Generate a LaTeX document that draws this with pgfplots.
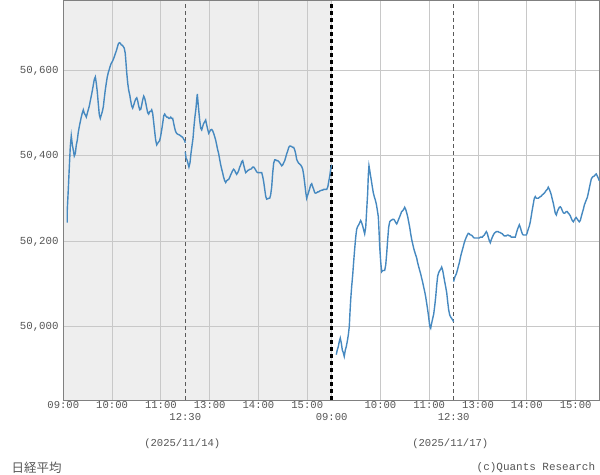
\documentclass[border=0pt]{standalone}
\usepackage{fontspec}
\setmonofont{Liberation Mono}
\newfontfamily\jp{Noto Sans CJK JP}
\usepackage{pgfplots}
\pgfplotsset{compat=1.18}
\definecolor{bgshade}{RGB}{238,238,238}
\definecolor{gridc}{RGB}{200,200,200}
\definecolor{framec}{RGB}{128,128,128}
\definecolor{txt}{RGB}{85,85,85}
\definecolor{lunch}{RGB}{90,90,90}
\definecolor{price}{RGB}{70,137,192}
\begin{document}
\begin{tikzpicture}
\begin{axis}[
  set layers,
  scale only axis,
  width=536.7bp, height=400bp,
  xmin=0, xmax=660, ymin=49829, ymax=50765,
  axis line style={draw=framec, line width=1bp},
  xtick={0,60,120,180,240,300,390,450,510,570,630},
  xticklabels={09:00,10:00,11:00,13:00,14:00,15:00,10:00,11:00,13:00,14:00,15:00},
  extra x ticks={150,330,480},
  extra x tick labels={12:30,09:00,12:30},
  extra x tick style={grid=none, xticklabel style={yshift=-12bp}},
  ytick={50000,50200,50400,50600},
  yticklabels={{50,000},{50,200},{50,400},{50,600}},
  major tick length=0pt,
  xmajorgrids, ymajorgrids,
  grid style={draw=gridc, line width=1bp},
  xticklabel style={font=\ttfamily\fontsize{10.6}{12}\selectfont, text=txt, inner sep=0pt, anchor=north, yshift=-1.5bp},
  yticklabel style={font=\ttfamily\fontsize{10.8}{12}\selectfont, text=txt, inner sep=0pt, anchor=east, xshift=-4.5bp},
  clip=false,
]
\begin{pgfonlayer}{axis background}
\fill[bgshade] (axis cs:0,49829) rectangle (axis cs:330,50765);
\end{pgfonlayer}
\draw[lunch, line width=1bp, dash pattern=on 4bp off 3bp] (axis cs:150,49829) -- (axis cs:150,50765);
\draw[lunch, line width=1bp, dash pattern=on 4bp off 3bp] (axis cs:480,49829) -- (axis cs:480,50765);
\draw[gridc, line width=1bp] (axis cs:330,49829) -- (axis cs:330,50765);
\draw[black, line width=3bp, dash pattern=on 4.3bp off 2.7bp] (axis cs:330,49829) -- (axis cs:330,50765);
\draw[framec, line width=2bp] (rel axis cs:0,1) -- (rel axis cs:1,1);
\draw[framec, line width=2bp] (rel axis cs:1,0) -- (rel axis cs:1,1);

\addplot[price, line width=1.4bp, mark=none] coordinates {
(4.9,50244)(4.9,50274)(6.1,50320)(7.4,50374)(8.6,50422)(9.8,50447)(11.1,50426)(12.3,50414)(13.5,50400)(14.8,50406)(16.0,50426)(17.2,50437)(18.4,50455)(19.7,50469)(20.9,50480)(22.1,50491)(23.4,50501)(24.6,50508)(25.8,50500)(27.1,50496)(28.3,50491)(29.5,50500)(30.7,50508)(32.0,50517)(33.2,50529)(34.4,50540)(35.7,50553)(36.9,50566)(38.1,50579)(39.4,50585)(40.6,50570)(41.8,50550)(43.0,50523)(44.3,50496)(45.5,50488)(46.7,50496)(48.0,50504)(49.2,50515)(50.4,50535)(51.6,50554)(52.9,50571)(54.1,50585)(55.3,50595)(56.6,50603)(57.8,50611)(59.0,50617)(60.3,50621)(61.5,50626)(62.7,50632)(63.9,50639)(65.2,50646)(66.4,50654)(67.6,50662)(68.9,50665)(70.1,50664)(71.3,50660)(72.6,50659)(73.8,50656)(75.0,50652)(76.2,50640)(77.1,50618)(78.0,50595)(79.2,50571)(80.4,50554)(81.7,50543)(82.9,50529)(84.1,50517)(85.3,50512)(86.6,50519)(87.8,50527)(89.0,50533)(90.3,50536)(91.5,50529)(92.7,50517)(94.0,50508)(95.2,50509)(96.4,50519)(97.6,50531)(98.9,50540)(100.1,50535)(101.3,50525)(102.6,50512)(103.8,50501)(105.0,50498)(106.2,50504)(107.5,50504)(108.7,50508)(109.9,50500)(111.2,50478)(112.4,50457)(113.6,50437)(114.9,50426)(116.1,50430)(117.3,50433)(118.5,50436)(119.8,50447)(121.0,50461)(122.2,50476)(123.5,50494)(124.7,50498)(125.9,50494)(127.2,50491)(128.4,50491)(129.6,50488)(130.8,50488)(132.1,50491)(133.3,50488)(134.5,50488)(135.8,50476)(137.0,50465)(138.2,50457)(139.4,50453)(140.7,50451)(141.9,50450)(143.1,50449)(144.4,50447)(145.6,50445)(146.8,50444)(148.1,50439)(149.3,50436)(150,50431)
};
\addplot[price, line width=1.4bp, mark=none] coordinates {
(150,50410)(150.9,50395)(152.1,50391)(153.3,50383)(154.5,50374)(155.8,50384)(157.0,50406)(158.2,50423)(159.5,50441)(160.7,50469)(161.9,50492)(163.2,50512)(164.0,50531)(164.8,50545)(165.6,50527)(166.5,50508)(167.7,50484)(169.0,50465)(170.2,50461)(171.4,50469)(172.6,50476)(173.9,50480)(175.1,50484)(176.3,50473)(177.6,50462)(178.8,50453)(180.0,50457)(181.3,50461)(182.5,50462)(183.7,50459)(184.9,50453)(186.2,50445)(187.4,50437)(188.6,50426)(189.9,50414)(191.1,50405)(192.3,50392)(193.6,50379)(194.8,50369)(196.0,50360)(197.2,50350)(198.5,50342)(199.7,50338)(200.9,50342)(202.2,50344)(203.4,50345)(204.6,50350)(205.9,50356)(207.1,50361)(208.3,50366)(209.5,50369)(210.8,50366)(212.0,50361)(213.2,50357)(214.5,50361)(215.7,50366)(216.9,50374)(218.2,50379)(219.4,50387)(220.6,50389)(221.8,50379)(223.1,50369)(224.3,50361)(225.5,50363)(226.8,50366)(228.0,50367)(229.2,50369)(230.5,50369)(231.7,50371)(232.9,50374)(234.1,50374)(235.4,50371)(236.6,50367)(237.8,50363)(239.1,50361)(240.3,50361)(241.5,50361)(242.7,50361)(244.0,50361)(245.2,50352)(246.4,50340)(247.7,50322)(248.9,50306)(250.1,50299)(251.4,50300)(252.6,50301)(253.8,50301)(255.0,50309)(256.3,50328)(257.5,50360)(258.7,50383)(260.0,50391)(261.2,50391)(262.4,50389)(263.7,50389)(264.9,50387)(266.1,50384)(267.3,50381)(268.6,50377)(269.8,50379)(271.0,50384)(272.3,50389)(273.5,50397)(274.7,50405)(276.0,50412)(277.2,50420)(278.4,50423)(279.6,50423)(280.9,50422)(282.1,50420)(283.3,50420)(284.6,50414)(285.8,50405)(287.0,50392)(288.2,50387)(289.5,50383)(290.7,50381)(291.9,50379)(293.2,50375)(294.4,50369)(295.6,50356)(296.9,50336)(298.1,50316)(299.3,50301)(300.6,50309)(301.8,50316)(303.0,50324)(304.2,50332)(305.5,50335)(306.7,50328)(307.9,50322)(309.2,50314)(310.4,50313)(311.6,50314)(312.9,50316)(314.1,50316)(315.3,50318)(316.5,50319)(317.8,50320)(319.0,50320)(320.2,50322)(321.5,50322)(322.7,50322)(323.9,50322)(325.2,50327)(326.4,50340)(327.6,50352)(328.8,50369)(330.0,50379)
};
\addplot[price, line width=1.4bp, mark=none] coordinates {
(335.7,49935)(336.9,49946)(338.2,49954)(339.4,49966)(340.6,49974)(341.9,49962)(343.1,49946)(344.3,49940)(345.5,49931)(346.8,49946)(348.0,49954)(349.2,49966)(350.5,49981)(351.7,50001)(352.5,50032)(353.4,50063)(354.6,50094)(355.9,50122)(357.1,50153)(358.3,50182)(359.6,50210)(360.8,50229)(362.0,50235)(363.3,50239)(364.5,50244)(365.7,50249)(366.9,50244)(368.2,50236)(369.4,50227)(370.6,50218)(371.9,50233)(373.1,50274)(374.3,50313)(375.1,50356)(375.9,50377)(376.8,50367)(377.5,50358)(378.7,50344)(380.0,50328)(381.2,50314)(382.4,50305)(383.7,50297)(384.9,50288)(386.1,50274)(387.4,50258)(388.2,50227)(389.1,50188)(390.3,50153)(391.5,50129)(392.8,50132)(394.0,50132)(395.2,50132)(396.5,50145)(397.7,50172)(398.9,50204)(400.1,50233)(401.4,50246)(402.6,50249)(403.8,50250)(405.1,50252)(406.3,50252)(407.5,50249)(408.8,50244)(410.0,50241)(411.2,50246)(412.4,50252)(413.7,50258)(414.9,50264)(416.1,50270)(417.4,50272)(418.6,50275)(419.8,50280)(421.1,50275)(422.3,50267)(423.5,50258)(424.7,50246)(426.0,50233)(427.2,50218)(428.4,50205)(429.7,50194)(430.9,50184)(432.1,50176)(433.4,50168)(434.6,50161)(435.8,50150)(437.0,50141)(438.3,50132)(439.5,50124)(440.7,50114)(442.0,50104)(443.2,50093)(444.4,50083)(445.6,50071)(446.9,50055)(448.1,50040)(449.3,50023)(450.6,50002)(451.8,49997)(453.0,50009)(454.3,50020)(455.5,50030)(456.7,50048)(458.0,50071)(459.2,50098)(460.4,50119)(461.6,50127)(462.9,50132)(464.1,50135)(465.3,50140)(466.6,50132)(467.8,50119)(469.0,50106)(470.2,50094)(471.5,50080)(472.7,50059)(473.9,50040)(475.2,50028)(476.4,50023)(477.6,50020)(478.9,50016)(480.0,50012)
};
\addplot[price, line width=1.4bp, mark=none] coordinates {
(480,50106)(481.0,50114)(482.0,50119)(483.3,50124)(484.5,50132)(485.7,50141)(487.0,50150)(488.2,50161)(489.4,50171)(490.7,50180)(491.9,50188)(493.1,50197)(494.3,50204)(495.6,50210)(496.8,50215)(498.0,50219)(499.3,50218)(500.5,50215)(501.7,50215)(503.0,50213)(504.2,50210)(505.4,50208)(506.6,50208)(507.9,50208)(509.1,50208)(510.3,50208)(511.6,50208)(512.8,50210)(514.0,50210)(515.3,50210)(516.5,50213)(517.7,50215)(518.9,50219)(520.2,50223)(521.4,50219)(522.6,50210)(523.9,50202)(525.1,50197)(526.3,50204)(527.6,50210)(528.8,50215)(530.0,50219)(531.2,50221)(532.5,50223)(533.7,50223)(534.9,50223)(536.2,50221)(537.4,50221)(538.6,50219)(539.9,50218)(541.1,50215)(542.3,50213)(543.5,50213)(544.8,50213)(546.0,50215)(547.2,50215)(548.5,50213)(549.7,50213)(550.9,50210)(552.1,50210)(553.4,50210)(554.6,50210)(555.8,50210)(557.1,50219)(558.3,50227)(559.5,50233)(560.8,50239)(562.0,50233)(563.2,50225)(564.4,50218)(565.7,50215)(566.9,50215)(568.1,50215)(569.4,50215)(570.6,50221)(571.8,50229)(573.1,50236)(574.3,50246)(575.5,50260)(576.7,50274)(578.0,50288)(579.2,50301)(580.4,50305)(581.7,50301)(582.9,50301)(584.1,50301)(585.4,50303)(586.6,50305)(587.8,50306)(589.0,50309)(590.3,50311)(591.5,50313)(592.7,50316)(594.0,50320)(595.2,50322)(596.4,50327)(597.7,50322)(598.9,50316)(600.1,50309)(601.3,50299)(602.6,50289)(603.8,50278)(605.0,50266)(606.3,50262)(607.5,50270)(608.7,50275)(610.0,50280)(611.2,50281)(612.4,50278)(613.6,50272)(614.9,50267)(616.1,50266)(617.3,50267)(618.6,50270)(619.8,50270)(621.0,50266)(622.2,50264)(623.5,50260)(624.7,50254)(625.9,50249)(627.2,50246)(628.4,50250)(629.6,50254)(630.8,50256)(632.1,50252)(633.3,50249)(634.5,50246)(635.8,50249)(637.0,50258)(638.2,50267)(639.5,50275)(640.7,50285)(641.9,50291)(643.1,50297)(644.4,50303)(645.6,50313)(646.8,50324)(648.1,50336)(649.3,50346)(650.5,50350)(651.7,50352)(653.0,50353)(654.2,50356)(655.4,50358)(656.7,50353)(657.9,50348)(659.1,50342)
};
\end{axis}
\node[text=txt, font=\ttfamily\fontsize{10.6}{12}\selectfont] at (119bp,-43.5bp) {(2025/11/14)};
\node[text=txt, font=\ttfamily\fontsize{10.6}{12}\selectfont] at (387bp,-43.5bp) {(2025/11/17)};
\node[text=txt, font=\jp\fontsize{12.5}{14}\selectfont, anchor=west, inner sep=0pt] at (-51.8bp,-67.5bp) {日経平均};
\node[text=txt, font=\ttfamily\fontsize{11}{12}\selectfont, anchor=east, inner sep=0pt] at (532bp,-68bp) {(c)Quants Research};
\pgfresetboundingbox
\useasboundingbox (-63.3bp,-75bp) rectangle (536.7bp,400bp);
\end{tikzpicture}
\end{document}
